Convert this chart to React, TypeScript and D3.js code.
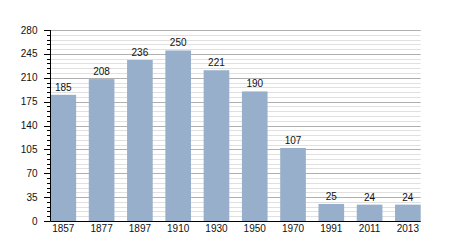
import React from "react";
import * as d3 from "d3";

const categories = ["1857", "1877", "1897", "1910", "1930", "1950", "1970", "1991", "2011", "2013"];
const values = [185, 208, 236, 250, 221, 190, 107, 25, 24, 24];
const yTicks = [0, 35, 70, 105, 140, 175, 210, 245, 280];

const W = 450, H = 250;
const left = 50.5, right = 420.7, top = 30, bottom = 221;

export default function App() {
  const x = d3.scaleBand<string>().domain(categories).range([left, right]).paddingInner(0.33).paddingOuter(0);
  const y = d3.scaleLinear().domain([0, 280]).range([bottom, top]);
  const minor = d3.range(0, 281, 7).filter((v) => v % 35 !== 0);
  const font = "'Liberation Sans', Arial, sans-serif";
  return (
    <svg width={W} height={H} style={{ position: "absolute", left: 0, top: 0, background: "#fff" }}>
      {minor.map((v) => (
        <line key={"m" + v} x1={left} x2={right} y1={Math.round(y(v)) + 0.5} y2={Math.round(y(v)) + 0.5} stroke="#e0e0e0" strokeWidth={1} />
      ))}
      {yTicks.map((v) => (
        <line key={"g" + v} x1={left} x2={right} y1={Math.round(y(v)) + 0.5} y2={Math.round(y(v)) + 0.5} stroke="#b0b0b0" strokeWidth={1} />
      ))}
      {categories.map((c, i) => (
        <rect key={c} x={x(c)} y={y(values[i])} width={x.bandwidth()} height={bottom - y(values[i])} fill="#97afca" />
      ))}
      {categories.map((c, i) => (
        <text key={"v" + c} x={(x(c) as number) + x.bandwidth() / 2} y={y(values[i]) - 4} textAnchor="middle" fontFamily={font} fontSize={10} fill="#111">
          {values[i]}
        </text>
      ))}
      {minor.map((v) => (
        <line key={"mt" + v} x1={47} x2={left} y1={Math.round(y(v)) + 0.5} y2={Math.round(y(v)) + 0.5} stroke="#000" strokeWidth={1} />
      ))}
      {yTicks.map((v) => (
        <g key={"t" + v}>
          <line x1={44} x2={left} y1={Math.round(y(v)) + 0.5} y2={Math.round(y(v)) + 0.5} stroke="#000" strokeWidth={1} />
          <text x={37.5} y={y(v) + 3.5} textAnchor="end" fontFamily={font} fontSize={10} fill="#111">{v}</text>
        </g>
      ))}
      <line x1={left} x2={left} y1={top} y2={bottom + 0.5} stroke="#000" strokeWidth={1} />
      <line x1={left} x2={right} y1={Math.round(bottom) + 0.5} y2={Math.round(bottom) + 0.5} stroke="#000" strokeWidth={1.2} />
      {categories.map((c) => (
        <text key={"x" + c} x={(x(c) as number) + x.bandwidth() / 2} y={232} textAnchor="middle" fontFamily={font} fontSize={10} fill="#111">
          {c}
        </text>
      ))}
    </svg>
  );
}
